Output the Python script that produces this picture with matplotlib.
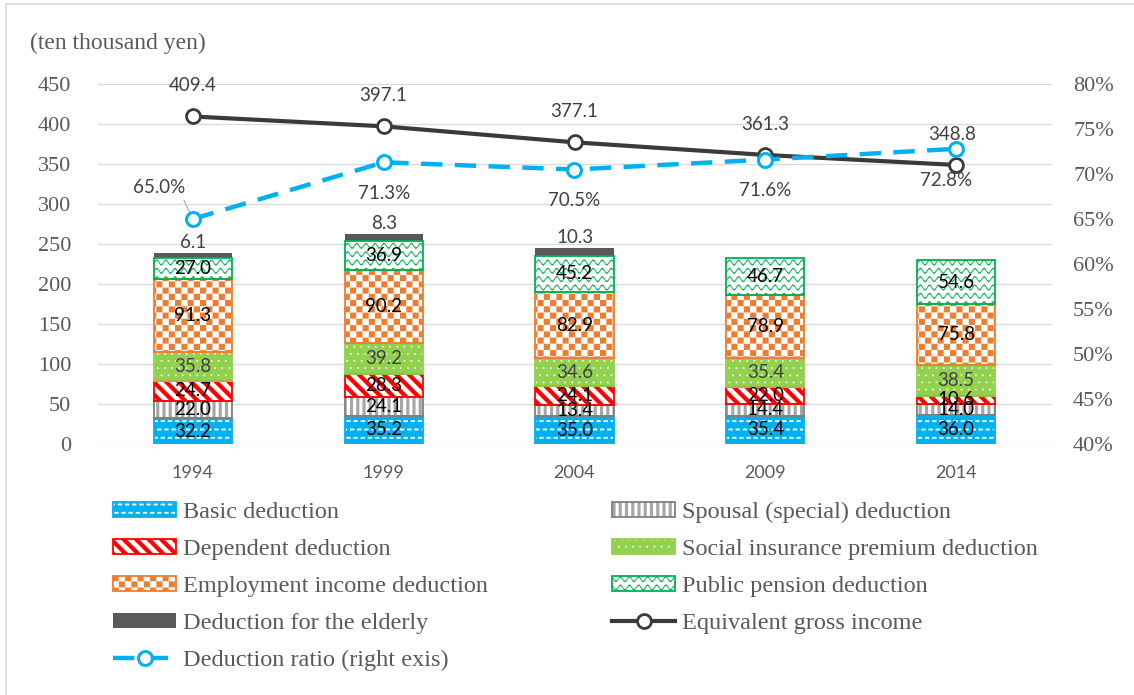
import warnings
import numpy as np
import matplotlib
matplotlib.use("Agg")
import matplotlib.pyplot as plt
import matplotlib.hatch as mhatch
from matplotlib.path import Path
from matplotlib.patches import Rectangle
from matplotlib.lines import Line2D
from matplotlib.legend_handler import HandlerTuple
from matplotlib.ticker import FuncFormatter, MultipleLocator

warnings.filterwarnings("ignore", message=".*hatch must consist.*")

# ---------------------------------------------------------------- data
years = ["1994", "1999", "2004", "2009", "2014"]
basic = [32.2, 35.2, 35.0, 35.4, 36.0]
spousal = [22.0, 24.1, 13.4, 14.4, 14.0]
dependent = [24.7, 28.3, 24.1, 22.0, 10.6]
social_insurance = [35.8, 39.2, 34.6, 35.4, 38.5]
employment = [91.3, 90.2, 82.9, 78.9, 75.8]
public_pension = [27.0, 36.9, 45.2, 46.7, 54.6]
elderly = [6.1, 8.3, 10.3, 0.0, 0.0]
gross_income = [409.4, 397.1, 377.1, 361.3, 348.8]
deduction_ratio = [65.0, 71.3, 70.5, 71.6, 72.8]  # percent

series_names = [
    "Basic deduction",
    "Spousal (special) deduction",
    "Dependent deduction",
    "Social insurance premium deduction",
    "Employment income deduction",
    "Public pension deduction",
    "Deduction for the elderly",
]
line_names = ["Equivalent gross income", "Deduction ratio (right exis)"]

# ---------------------------------------------------------------- fill patterns
# Shapes are described in pixels of a 100 px hatch cell (one inch at 100 dpi).
def _rect(x, y, w, h):
    return [(x, y), (x + w, y), (x + w, y + h), (x, y + h)]


def _to_path_arrays(polys):
    verts, codes = [], []
    for p in polys:
        p = np.asarray(p, float) / 100.0
        verts.extend(p)
        verts.append(p[0])
        codes.extend([Path.MOVETO] + [Path.LINETO] * (len(p) - 1) + [Path.CLOSEPOLY])
    return np.array(verts), np.array(codes, dtype=Path.code_type)


def _checker():
    s = 100 / 16
    return [_rect(i * s, j * s, s, s) for i in range(16) for j in range(16) if (i + j) % 2 == 0]


def _dashes():
    polys = []
    ry, px = 100 / 12, 100 / 14
    for r in range(12):
        off = (r % 2) * px / 2
        for j in range(-1, 16):
            polys.append(_rect(j * px + off, r * ry + 3.0, 4.2, 1.7))
    return polys


def _dots():
    polys = []
    ry, px = 100 / 14, 100 / 14
    for r in range(14):
        off = (r % 2) * px / 2
        for j in range(-1, 16):
            polys.append(_rect(j * px + off, r * ry + 2.5, 1.6, 1.6))
    return polys


def _vstripes():
    p = 100 / 16
    return [_rect(i * p, -5, 3.0, 110) for i in range(16)]


def _diag():
    polys = []
    p = 100 / 8
    for k in range(-2, 20):
        c1 = k * p
        c2 = c1 + 6.3
        polys.append([(c1 + 10, -10), (c2 + 10, -10), (c2 - 110, 110), (c1 - 110, 110)])
    return polys


def _wave():
    polys = []
    ry = 100 / 12
    per = 100 / 11
    xs = np.arange(-5, 105.01, 0.5)
    for r in range(12):
        y0 = r * ry + ry / 2
        yc = y0 + 2.3 * np.sin(2 * np.pi * xs / per)
        top = np.column_stack([xs, yc + 0.7])
        bot = np.column_stack([xs[::-1], yc[::-1] - 0.7])
        polys.append(np.vstack([top, bot]))
    return polys


PATTERNS = {
    "K": _to_path_arrays(_checker()),
    "D": _to_path_arrays(_dashes()),
    "P": _to_path_arrays(_dots()),
    "V": _to_path_arrays(_vstripes()),
    "R": _to_path_arrays(_diag()),
    "W": _to_path_arrays(_wave()),
}


class ShapeHatch(mhatch.HatchPatternBase):
    def __init__(self, hatch, density):
        self.keys = [c for c in hatch if c in PATTERNS]
        self.num_vertices = sum(len(PATTERNS[c][0]) for c in self.keys)

    def set_vertices_and_codes(self, vertices, codes):
        i = 0
        for c in self.keys:
            v, cd = PATTERNS[c]
            vertices[i:i + len(v)] = v
            codes[i:i + len(v)] = cd
            i += len(v)


mhatch._hatch_types.append(ShapeHatch)

plt.rcParams["hatch.linewidth"] = 0.1

# face colour, pattern colour, pattern, outline colour, label colour
styles = [
    ("#00B0F0", "#FFFFFF", "D", "#00B0F0", "#000000"),
    ("#FFFFFF", "#A6A6A6", "V", "#808080", "#000000"),
    ("#FF0000", "#FFFFFF", "R", "#FF0000", "#000000"),
    ("#92D050", "#F2FAE8", "P", "#92D050", "#404040"),
    ("#ED7D31", "#FFFFFF", "K", "#ED7D31", "#000000"),
    ("#FFFFFF", "#00B050", "W", "#00B050", "#000000"),
    ("#595959", None, None, None, "#404040"),
]
series_values = [basic, spousal, dependent, social_insurance, employment,
                 public_pension, elderly]

SERIF = "Liberation Serif"
SANS = "Lato"
GREY_TXT = "#595959"

# ---------------------------------------------------------------- figure
W, H = 1134, 695
fig = plt.figure(figsize=(W / 100, H / 100), dpi=100)
ax = fig.add_axes([97.5 / W, 1 - 444 / H, (1051.5 - 97.5) / W, 360 / H])

x = np.arange(len(years))
bw = 0.41
bottom = np.zeros(len(years))
for vals, (face, hcol, hatch, edge, lcol) in zip(series_values, styles):
    vals = np.asarray(vals)
    ax.bar(x, vals, bw, bottom=bottom, facecolor=face,
           edgecolor=hcol if hcol else "none", hatch=hatch, linewidth=0, zorder=2)
    if edge:
        ax.bar(x, vals, bw, bottom=bottom, facecolor="none", edgecolor=edge,
               linewidth=1.3, zorder=2.1)
    for xi, b, v in zip(x, bottom, vals):
        if v <= 0:
            continue
        if hatch is None:
            ax.annotate(f"{v:.1f}", (xi, b + v), xytext=(0, 1.5), textcoords="offset points",
                        ha="center", va="bottom", fontsize=13.5, family=SANS, color=lcol,
                        zorder=4)
        else:
            ax.text(xi, b + v / 2, f"{v:.1f}", ha="center", va="center",
                    fontsize=13.5, family=SANS, color=lcol, zorder=4)
    bottom += vals

gross_style = dict(color="#3A3A3A", lw=3.0, marker="o", ms=10, mfc="white",
                   mec="#3A3A3A", mew=2.0)
ratio_style = dict(color="#00B0F0", lw=3.2, marker="o", ms=10, mfc="white",
                   mec="#00B0F0", mew=2.2, dashes=(4.8, 2.8), dash_capstyle="butt")

ax.plot(x, gross_income, zorder=5, **gross_style)
for xi, v in zip(x, gross_income):
    dx = -3 if xi == 4 else 0
    ax.annotate(f"{v:.1f}", (xi, v), xytext=(dx, 22), textcoords="offset points",
                ha="center", va="center", fontsize=13.5, family=SANS, color="#404040")

ax.set_xlim(-0.5, len(years) - 0.5)
ax.set_ylim(0, 450)
ax.yaxis.set_major_locator(MultipleLocator(50))
ax.set_xticks(x, years)
ax.grid(axis="y", color="#D9D9D9", lw=0.9, zorder=0)
ax.set_axisbelow(True)
for s in ax.spines.values():
    s.set_visible(False)

ax2 = ax.twinx()
ratio = np.array(deduction_ratio) / 100
ax2.plot(x, ratio, zorder=5, **ratio_style)
ax2.set_ylim(0.40, 0.80)
ax2.yaxis.set_major_locator(MultipleLocator(0.05))
ax2.yaxis.set_major_formatter(FuncFormatter(lambda v, p: f"{v * 100:.0f}%"))
for s in ax2.spines.values():
    s.set_visible(False)

ax.tick_params(axis="y", length=0, pad=19, labelsize=16, labelcolor=GREY_TXT,
               labelfontfamily=SERIF)
ax.tick_params(axis="x", length=0, pad=15, labelsize=13, labelcolor=GREY_TXT,
               labelfontfamily=SANS)
ax2.tick_params(axis="y", length=0, pad=15.5, labelsize=16, labelcolor=GREY_TXT,
                labelfontfamily=SERIF)

for i, (xi, v) in enumerate(zip(x, ratio)):
    if i == 0:
        ax2.annotate(f"{v * 100:.1f}%", (xi, v), xytext=(-24, 22.5), textcoords="offset points",
                     ha="center", va="center", fontsize=13.5, family=SANS, color="#404040",
                     arrowprops=dict(arrowstyle="-", color="#A6A6A6", lw=0.8,
                                     shrinkA=1, shrinkB=5, relpos=(0.93, 0.0)))
    else:
        dx = -7 if i == 4 else 0
        ax2.annotate(f"{v * 100:.1f}%", (xi, v), xytext=(dx, -22.5), textcoords="offset points",
                     ha="center", va="center", fontsize=13.5, family=SANS, color="#404040")

# ---------------------------------------------------------------- texts & legend
fig.text(30 / W, 1 - 43 / H, "(ten thousand yen)", ha="left", va="center",
         fontsize=17, family=SERIF, color=GREY_TXT)


def bar_handle(style):
    face, hcol, hatch, edge, _ = style
    fill = Rectangle((0, 0), 1, 1, facecolor=face, edgecolor=hcol if hcol else "none",
                     hatch=hatch, linewidth=0)
    if edge:
        outline = Rectangle((0, 0), 1, 1, facecolor="none", edgecolor=edge, linewidth=1.3)
        return (fill, outline)
    return (fill,)


bar_handles = [bar_handle(s) for s in styles]
gross_handle = Line2D([], [], **gross_style)
ratio_handle = Line2D([], [], **ratio_style)

leg_kw = dict(loc="upper left", frameon=False, borderpad=0, borderaxespad=0,
              handlelength=2.6, handleheight=0.55, handletextpad=0.3,
              labelspacing=0.66, numpoints=1,
              prop=dict(family=SERIF, size=17.5), labelcolor=GREY_TXT,
              handler_map={tuple: HandlerTuple(ndivide=1, pad=0)})

col1 = [bar_handles[0], bar_handles[2], bar_handles[4], bar_handles[6], ratio_handle]
lab1 = [series_names[0], series_names[2], series_names[4], series_names[6], line_names[1]]
col2 = [bar_handles[1], bar_handles[3], bar_handles[5], gross_handle]
lab2 = [series_names[1], series_names[3], series_names[5], line_names[0]]

leg1 = fig.legend(col1, lab1, bbox_to_anchor=(113 / W, 1 - 502 / H), **leg_kw)
leg2 = fig.legend(col2, lab2, bbox_to_anchor=(612 / W, 1 - 502 / H), **leg_kw)

# chart-area border
fig.patches.append(Rectangle((6 / W, -0.05), 1.2, 1 - 4 / H + 0.05, transform=fig.transFigure,
                             fill=False, edgecolor="#D9D9D9", lw=1.2))

fig.savefig("out.png", dpi=100)
